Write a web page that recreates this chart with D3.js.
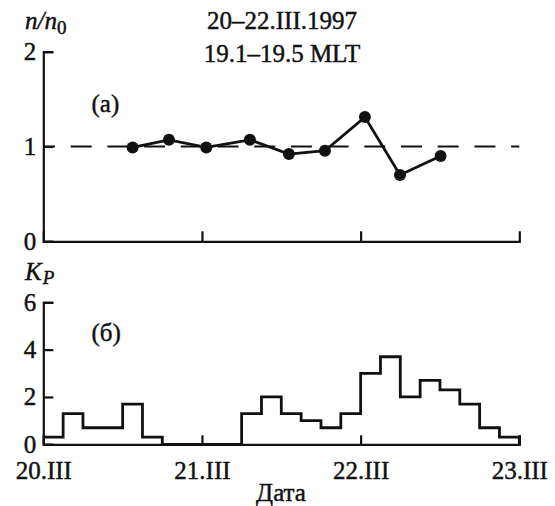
<!DOCTYPE html>
<html>
<head>
<meta charset="utf-8">
<script src="https://cdn.jsdelivr.net/npm/d3@7"></script>
<style>
  body { margin: 0; background: #fff; }
  svg text { stroke: #111; stroke-width: 0.45px; }
</style>
</head>
<body>
<script>
// ------- Données -------
// temps en jours depuis 20.III 00 UT
const nTimes = [0.563, 0.792, 1.027, 1.302, 1.548, 1.775, 2.027, 2.248, 2.504];
const nValues = [0.99, 1.07, 0.99, 1.07, 0.92, 0.955, 1.31, 0.70, 0.90];
// Kp, intervalles de 3 heures
const kpValues = [0.3, 1.3, 0.7, 0.7, 1.7, 0.3, 0, 0, 0, 0, 1.3, 2.0,
                  1.3, 1.0, 0.7, 1.3, 3.0, 3.7, 2.0, 2.7, 2.3, 1.7, 0.7, 0.3];
const dayLabels = ["20.III", "21.III", "22.III", "23.III"];
const nTicks = [0, 1, 2];
const kpTicks = [0, 2, 4, 6];

const WIDTH = 555
const HEIGHT = 506
const FS = 25
const FONT = "'Liberation Serif', 'Times New Roman', 'DejaVu Serif', serif"

const svg = d3.select("body").append("svg")
    .attr("width", WIDTH)
    .attr("height", HEIGHT)
    .attr("font-family", FONT)

const x = d3.scaleLinear().domain([0, 3]).range([43.3, 519.3])
const yTop = d3.scaleLinear().domain([0, 2]).range([241.3, 51.7])
const yBot = d3.scaleLinear().domain([0, 6]).range([444.3, 302.3])

function styleAxis(g) {
  g.attr("font-family", FONT).attr("font-size", FS)
  g.selectAll("path, line").attr("stroke", "#111").attr("stroke-width", 2.2)
  g.selectAll("text").attr("fill", "#111")
}

// ------- Panneau (a) -------
svg.append("g")
    .attr("transform", `translate(0,${yTop(0)})`)
    .call(d3.axisBottom(x).tickValues([1, 2]).tickFormat("").tickSizeInner(-10).tickSizeOuter(-10))
    .call(styleAxis)

svg.append("g")
    .attr("transform", `translate(${x(0)},0)`)
    .call(d3.axisLeft(yTop).tickValues(nTicks).tickFormat(d3.format("d"))
      .tickSizeInner(-10).tickSizeOuter(-10).tickPadding(7))
    .call(styleAxis)

svg.append("line")
    .attr("x1", x(0)).attr("x2", x(3))
    .attr("y1", yTop(1)).attr("y2", yTop(1))
    .attr("stroke", "#111").attr("stroke-width", 2.2)
    .attr("stroke-dasharray", "21,15.7")
    .attr("stroke-dashoffset", 9.3)

const nData = nTimes.map((t, i) => ({t: t, v: nValues[i]}))

svg.append("path")
    .datum(nData)
    .attr("fill", "none")
    .attr("stroke", "#111")
    .attr("stroke-width", 2.8)
    .attr("d", d3.line().x(d => x(d.t)).y(d => yTop(d.v)))

svg.selectAll("circle")
    .data(nData)
    .enter()
    .append("circle")
    .attr("cx", d => x(d.t))
    .attr("cy", d => yTop(d.v))
    .attr("r", 6)
    .attr("fill", "#111")

// ------- Panneau (б) -------
svg.append("g")
    .attr("transform", `translate(0,${yBot(0)})`)
    .call(d3.axisBottom(x).tickValues([0, 1, 2, 3]).tickFormat((d, i) => dayLabels[i])
      .tickSizeInner(-9).tickSizeOuter(-9).tickPadding(17))
    .call(styleAxis)

svg.append("g")
    .attr("transform", `translate(${x(0)},0)`)
    .call(d3.axisLeft(yBot).tickValues(kpTicks).tickFormat(d3.format("d"))
      .tickSizeInner(-10).tickSizeOuter(-10).tickPadding(7))
    .call(styleAxis)

const kpData = kpValues.map((v, i) => ({t: i / 8, v: v}))
kpData.push({t: 3, v: kpValues[kpValues.length - 1]})
kpData.push({t: 3, v: 0})

svg.append("path")
    .datum(kpData)
    .attr("fill", "none")
    .attr("stroke", "#111")
    .attr("stroke-width", 2.8)
    .attr("d", d3.line().curve(d3.curveStepAfter).x(d => x(d.t)).y(d => yBot(d.v)))

// ------- Textes -------
const title = svg.append("text").attr("font-size", FS).attr("text-anchor", "middle").attr("fill", "#111")
title.append("tspan").attr("x", 282).attr("y", 28.5).text("20–22.III.1997")
title.append("tspan").attr("x", 282).attr("y", 61.5).text("19.1–19.5 MLT")

const nLab = svg.append("text").attr("x", 25).attr("y", 28.5).attr("font-size", FS)
    .attr("font-style", "italic").attr("fill", "#111")
nLab.append("tspan").text("n/n")
nLab.append("tspan").attr("font-style", "normal").attr("font-size", 19).attr("dy", 5).text("0")

const kLab = svg.append("text").attr("x", 25).attr("y", 279.5).attr("font-size", FS)
    .attr("font-style", "italic").attr("fill", "#111")
kLab.append("tspan").text("K")
kLab.append("tspan").attr("font-size", 19).attr("dy", 4).attr("dx", 1).text("P")

svg.append("text").attr("x", 91.5).attr("y", 112).attr("font-size", FS).attr("fill", "#111").text("(а)")
svg.append("text").attr("x", 91.5).attr("y", 341).attr("font-size", FS).attr("fill", "#111").text("(б)")

svg.append("text").attr("x", 281).attr("y", 501).attr("font-size", FS).attr("fill", "#111")
    .attr("text-anchor", "middle").text("Дата")
</script>
</body>
</html>
